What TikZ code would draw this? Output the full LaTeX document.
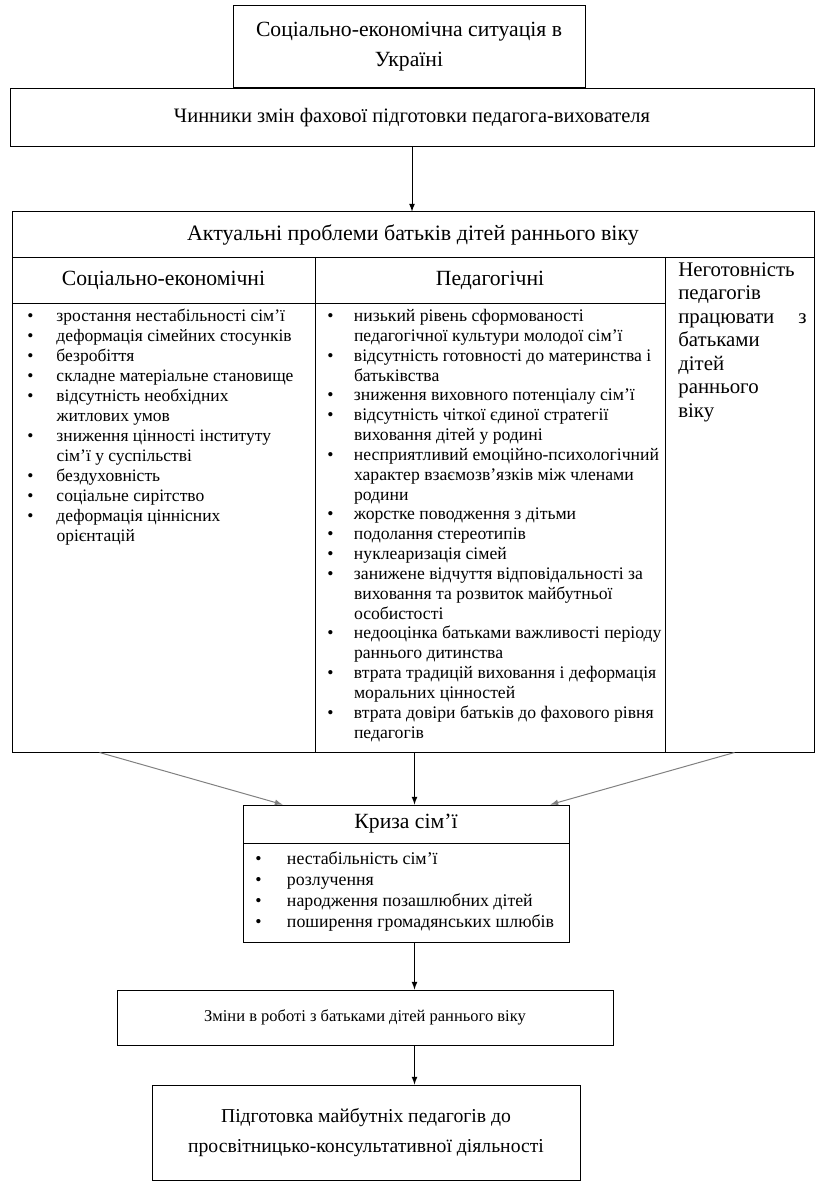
\documentclass[tikz,border=0pt]{standalone}
\usepackage{fontspec}
\setmainfont{Liberation Serif}
\usetikzlibrary{arrows}
\usetikzlibrary{calc}

\newlength{\bulletw}
\setlength{\bulletw}{16pt}
\tikzset{
  box/.style={draw, line width=0.6pt, inner sep=0pt, align=center},
  sz/.style 2 args={minimum width=#1*0.6pt, minimum height=#2*0.6pt},
  itemlist/.style={anchor=north west, inner sep=0pt, align=left},
  arr/.style={->, >=latex, line width=0.6pt},
}
\newcommand{\itm}[1]{\makebox[\bulletw][l]{\textbullet}#1}
\newcommand{\cnt}[1]{\hspace*{\bulletw}#1}

\begin{document}
\begin{tikzpicture}[x=0.6pt, y=-0.6pt]
    \useasboundingbox (0,0) rectangle (815,1184);
    \node[box, sz={352}{82}, font=\fontsize{13}{18}\selectfont] (situation) at (409,46.5) {Соціально-економічна ситуація в\\Україні};
    \node[box, sz={804}{58}, font=\fontsize{12.3}{14}\selectfont] (factors) at (412,118) {Чинники змін фахової підготовки педагога-вихователя};
    \node[box, sz={802}{46}, font=\fontsize{13.2}{15}\selectfont] (problems) at (413,235) {Актуальні проблеми батьків дітей раннього віку};
    \node[box, sz={303}{45}, font=\fontsize{13}{15}\selectfont] (socioHead) at (163.5,280.5) {Соціально-економічні};
    \node[box, sz={350}{45}, font=\fontsize{13}{15}\selectfont] (pedagHead) at (490,280.5) {Педагогічні};
    \node[box, sz={303}{449}] (socioBody) at (163.5,527.5) {};
    \node[box, sz={350}{449}] (pedagBody) at (490,527.5) {};
    \node[box, sz={149}{494}] (unready) at (739.5,505) {};
    \node[itemlist, text width=77pt, font=\fontsize{12.5}{14.1}\selectfont] (unreadyText) at (678,262)
      {Неготовність\\педагогів\\працювати\hfill з\\батьками\\дітей\\раннього\\віку};
    \node[itemlist, font={\fontsize{10.5}{12}\selectfont\setlength{\bulletw}{17.5pt}}] (socioList) at (27,309) {%
      \itm{зростання нестабільності сім’ї}\\
      \itm{деформація сімейних стосунків}\\
      \itm{безробіття}\\
      \itm{складне матеріальне становище}\\
      \itm{відсутність необхідних}\\
      \cnt{житлових умов}\\
      \itm{зниження цінності інституту}\\
      \cnt{сім’ї у суспільстві}\\
      \itm{бездуховність}\\
      \itm{соціальне сирітство}\\
      \itm{деформація ціннісних}\\
      \cnt{орієнтацій}};
    \node[itemlist, font=\fontsize{10.6}{11.9}\selectfont] (pedagList) at (327,309) {%
      \itm{низький рівень сформованості}\\
      \cnt{педагогічної культури молодої сім’ї}\\
      \itm{відсутність готовності до материнства і}\\
      \cnt{батьківства}\\
      \itm{зниження виховного потенціалу сім’ї}\\
      \itm{відсутність чіткої єдиної стратегії}\\
      \cnt{виховання дітей у родині}\\
      \itm{несприятливий емоційно-психологічний}\\
      \cnt{характер взаємозв’язків між членами}\\
      \cnt{родини}\\
      \itm{жорстке поводження з дітьми}\\
      \itm{подолання стереотипів}\\
      \itm{нуклеаризація сімей}\\
      \itm{занижене відчуття відповідальності за}\\
      \cnt{виховання та розвиток майбутньої}\\
      \cnt{особистості}\\
      \itm{недооцінка батьками важливості періоду}\\
      \cnt{раннього дитинства}\\
      \itm{втрата традицій виховання і деформація}\\
      \cnt{моральних цінностей}\\
      \itm{втрата довіри батьків до фахового рівня}\\
      \cnt{педагогів}};
    % kryza
    \node[box, sz={326}{38}, font=\fontsize{13}{15}\selectfont] (crisis) at (406,824) {Криза сім’ї};
    \node[box, sz={326}{99}] (crisisBody) at (406,892.5) {};
    \node[itemlist, font={\fontsize{10.7}{12.6}\selectfont\setlength{\bulletw}{19pt}}] (crisisList) at (255,851) {%
      \itm{нестабільність сім’ї}\\
      \itm{розлучення}\\
      \itm{народження позашлюбних дітей}\\
      \itm{поширення громадянських шлюбів}};
    \node[box, sz={496}{55}, font=\fontsize{9.9}{11}\selectfont] (changes) at (365,1017.5) {Зміни в роботі з батьками дітей раннього віку};
    \node[box, sz={428}{95}, font=\fontsize{11.8}{18}\selectfont] (training) at (366,1132.5) {Підготовка майбутніх педагогів до\\просвітницько-консультативної діяльності};
    % arrows
    \coordinate (leftOut) at ($(socioBody.south west)+(88,0)$);
    \coordinate (midOut) at ($(pedagBody.south west)+(100,0)$);
    \coordinate (rightOut) at ($(unready.south west)+(70,0)$);
    \draw[arr] (factors.south) -- (factors.south |- problems.north);
    \draw[arr, gray] (leftOut) -- ($(crisis.north west)+(40,0)$);
    \draw[arr] (midOut) -- (midOut |- crisis.north);
    \draw[arr, gray] (rightOut) -- ($(crisis.north east)+(-19,0)$);
    \draw[arr] (midOut |- crisisBody.south) -- (midOut |- changes.north);
    \draw[arr] (midOut |- changes.south) -- (midOut |- training.north);
\end{tikzpicture}
\end{document}
